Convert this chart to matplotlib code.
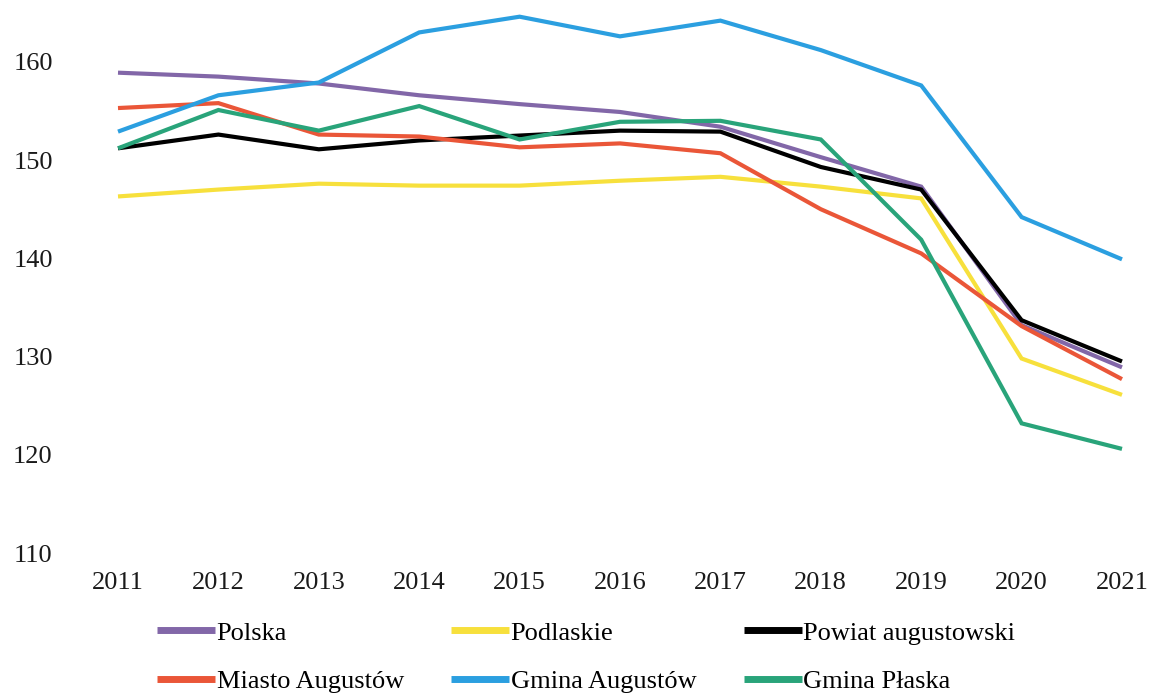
import matplotlib.pyplot as plt

years = [2011, 2012, 2013, 2014, 2015, 2016, 2017, 2018, 2019, 2020, 2021]

polska = [158.9, 158.5, 157.8, 156.6, 155.7, 154.9, 153.4, 150.3, 147.3, 133.2, 128.9]
podlaskie = [146.3, 147.0, 147.6, 147.4, 147.4, 147.9, 148.3, 147.3, 146.1, 129.8, 126.1]
powiat = [151.2, 152.6, 151.1, 152.0, 152.5, 153.0, 152.9, 149.3, 147.0, 133.7, 129.5]
miasto = [155.3, 155.8, 152.6, 152.4, 151.3, 151.7, 150.7, 145.0, 140.5, 133.1, 127.7]
gmina_aug = [152.9, 156.6, 157.9, 163.0, 164.6, 162.6, 164.2, 161.2, 157.6, 144.2, 139.9]
gmina_plaska = [151.2, 155.1, 153.0, 155.5, 152.1, 153.9, 154.0, 152.1, 141.9, 123.2, 120.6]

series = [
    ("Polska", polska, "#8267a8"),
    ("Podlaskie", podlaskie, "#f7e03c"),
    ("Powiat augustowski", powiat, "#000000"),
    ("Miasto Augustów", miasto, "#ea5638"),
    ("Gmina Augustów", gmina_aug, "#2b9fe0"),
    ("Gmina Płaska", gmina_plaska, "#29a47a"),
]

plt.rcParams['font.family'] = ['Liberation Serif', 'DejaVu Serif']
fig = plt.figure(figsize=(11.51, 6.97), dpi=100)
W, H = 1151, 697
ax = fig.add_axes([118 / W, (H - 553) / H, (1122 - 118) / W, 553 / H])

for name, vals, col in series:
    ax.plot(years, vals, color=col, lw=3, label=name, clip_on=False,
            solid_capstyle='butt', solid_joinstyle='miter')

ax.set_xlim(2011, 2021)
ax.set_ylim(110, 166.3)
ax.set_yticks([110, 120, 130, 140, 150, 160])
ax.set_xticks(years)
ax.tick_params(axis='y', length=0, pad=47, labelsize=19, colors='#1a1a1a')
ax.tick_params(axis='x', length=0, pad=14, labelsize=19, colors='#1a1a1a')
for s in ax.spines.values():
    s.set_visible(False)

# legend filled row by row: reorder for matplotlib's column filling
handles, labels = ax.get_legend_handles_labels()
order = [0, 3, 1, 4, 2, 5]
leg = fig.legend([handles[i] for i in order], [labels[i] for i in order],
                 ncol=3, loc='upper left',
                 bbox_to_anchor=(144 / W, 1 - 608 / H), frameon=False,
                 fontsize=19, handlelength=2.2, handletextpad=0.05,
                 columnspacing=1.8, labelspacing=0.95, borderpad=0)
for line in leg.get_lines():
    line.set_linewidth(5)

fig.savefig("out.png", dpi=100)
